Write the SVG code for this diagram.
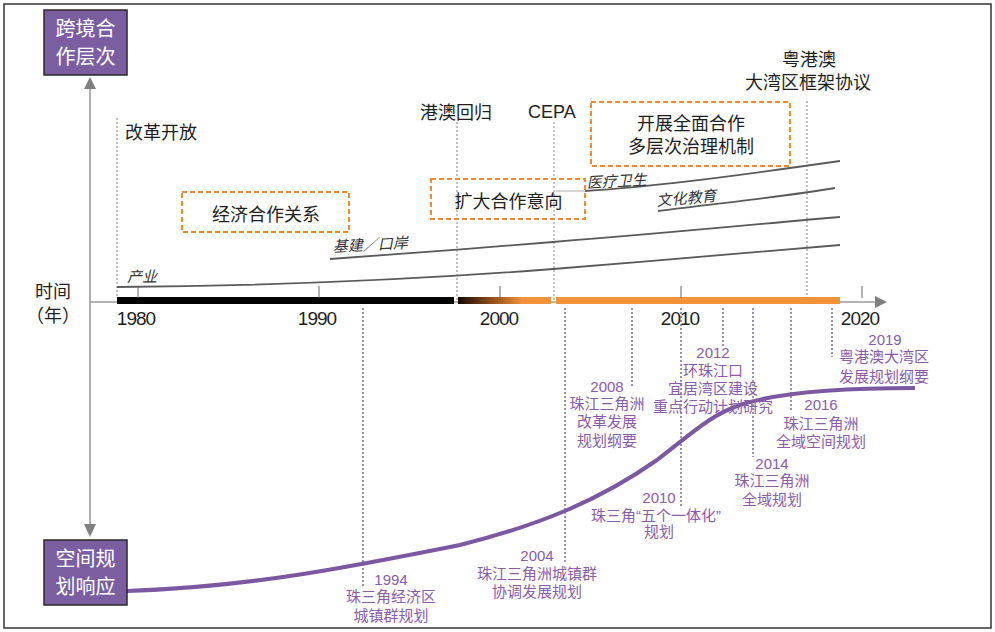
<svg xmlns="http://www.w3.org/2000/svg" width="995" height="632" viewBox="0 0 995 632">
<defs>
<style>
.t{font-family:"Liberation Sans","Noto Sans CJK SC",sans-serif;fill:#1e1e1e;font-size:18px}
.bx{font-family:"Noto Sans CJK SC",sans-serif;fill:#fff;font-size:20px;text-anchor:middle}
.yr{font-family:"Liberation Sans","Noto Sans CJK SC",sans-serif;fill:#1e1e1e;font-size:19px;letter-spacing:-1px;text-anchor:middle}
.p{font-family:"Liberation Sans","Noto Sans CJK SC",sans-serif;fill:#8a5ca8;font-size:15px;text-anchor:middle}
.it{font-family:"Liberation Sans","Noto Sans CJK SC",sans-serif;fill:#333;font-size:15px;font-style:italic}
.c{fill:none;stroke:#5a5a5a;stroke-width:1.8}
.gd{stroke:#9a9a9a;stroke-width:1.2;stroke-dasharray:2 2;fill:none}
.pd{stroke:#5b4a7e;stroke-width:1.2;stroke-dasharray:2 2;fill:none}
.ob{fill:none;stroke:#f08a32;stroke-width:2;stroke-dasharray:5 3}
.pb{fill:#7b5ea0;stroke:#2a2a2a;stroke-width:1.5}
.ax{stroke:#9a9a9a;stroke-width:1.6;fill:none}
.tk{stroke:#666;stroke-width:1}
</style>
<linearGradient id="grad" x1="0" y1="0" x2="1" y2="0">
<stop offset="0" stop-color="#140a02"/>
<stop offset="0.35" stop-color="#8a4d1a"/>
<stop offset="0.7" stop-color="#f4923a"/>
<stop offset="1" stop-color="#f4923a"/>
</linearGradient>
</defs>
<rect x="0" y="0" width="995" height="632" fill="#fff"/>
<rect x="4" y="4" width="987" height="624" fill="none" stroke="#333" stroke-width="1.5"/>

<g id="connectors">
<line class="ax" x1="90" y1="88" x2="90" y2="525"/>
<polygon points="84,89 90,77 96,89" fill="#7f7f7f"/>
<polygon points="84,524 90,537 96,524" fill="#7f7f7f"/>
<line class="ax" x1="90" y1="302" x2="876" y2="302"/>
<polygon points="875,296 887,302 875,308" fill="#7f7f7f"/>
<rect x="117" y="297" width="337" height="7" fill="#000"/>
<rect x="458" y="297" width="93" height="7" fill="url(#grad)"/>
<rect x="556" y="297" width="284" height="7" fill="#f4923a"/>
<line class="tk" x1="138" y1="286" x2="138" y2="298"/>
<line class="tk" x1="319" y1="286" x2="319" y2="298"/>
<line class="tk" x1="500" y1="286" x2="500" y2="298"/>
<line class="tk" x1="681" y1="286" x2="681" y2="298"/>
<line class="tk" x1="862" y1="286" x2="862" y2="298"/>
<line class="gd" x1="117" y1="118" x2="117" y2="298"/>
<line class="gd" x1="457" y1="122" x2="457" y2="300"/>
<line class="gd" x1="554" y1="122" x2="554" y2="300"/>
<line class="gd" x1="807" y1="101" x2="807" y2="298"/>
<path class="c" d="M117,287 C250,286 400,281 553,269 C650,261 760,252 840,245"/>
<path class="c" d="M330,259 C400,254 480,248 553,242 C680,232 780,222 840,217"/>
<line x1="556" y1="191" x2="585" y2="191" stroke="#c8c8c8" stroke-width="1.5"/>
<path class="c" d="M585,191 C650,187 720,178 840,161"/>
<path class="c" d="M658,211 C720,203 790,196 835,188"/>
<line class="pd" x1="363" y1="308" x2="363" y2="587"/>
<line class="pd" x1="565" y1="308" x2="565" y2="564"/>
<line class="pd" x1="632" y1="308" x2="632" y2="388"/>
<line class="pd" x1="681" y1="308" x2="681" y2="507"/>
<line class="pd" x1="723" y1="308" x2="723" y2="347"/>
<line class="pd" x1="753" y1="308" x2="753" y2="457"/>
<line class="pd" x1="791" y1="308" x2="791" y2="412"/>
<line class="pd" x1="832" y1="308" x2="832" y2="357"/>
<path d="M127,591 C250,587 350,567 460,545 C540,525 600,500 657,460 C690,435 710,415 740,405 C770,395 820,388 915,388" fill="none" stroke="#7b58a0" stroke-width="4"/>
</g>

<g id="box-top">
<rect class="pb" x="44" y="10" width="83" height="65"/>
<text class="bx" x="85.5" y="36">跨境合</text>
<text class="bx" x="85.5" y="64">作层次</text>
</g>
<g id="box-bottom">
<rect class="pb" x="44" y="540" width="83" height="65"/>
<text class="bx" x="85.5" y="566">空间规</text>
<text class="bx" x="85.5" y="594">划响应</text>
</g>

<g id="axis-labels">
<text class="t" x="53" y="298" text-anchor="middle" font-size="17">时间</text>
<text class="t" x="53" y="322" text-anchor="middle" font-size="17">（年）</text>
<text class="yr" x="136" y="325">1980</text>
<text class="yr" x="317" y="325">1990</text>
<text class="yr" x="499" y="325">2000</text>
<text class="yr" x="680" y="325">2010</text>
<text class="yr" x="860" y="325">2020</text>
</g>

<g id="events">
<text class="t" x="125" y="139">改革开放</text>
<text class="t" x="420" y="119">港澳回归</text>
<text class="t" x="528" y="118">CEPA</text>
<text class="t" x="809" y="66" text-anchor="middle">粤港澳</text>
<text class="t" x="808" y="89" text-anchor="middle">大湾区框架协议</text>
</g>

<g id="box-econ">
<rect class="ob" x="182" y="192" width="167" height="40"/>
<text class="t" x="266" y="221" text-anchor="middle">经济合作关系</text>
</g>
<g id="box-expand">
<rect class="ob" x="431" y="179" width="154" height="40"/>
<text class="t" x="508.5" y="208" text-anchor="middle">扩大合作意向</text>
</g>
<g id="box-full">
<rect class="ob" x="591" y="102" width="199" height="64"/>
<text class="t" x="691" y="130" text-anchor="middle">开展全面合作</text>
<text class="t" x="691" y="153" text-anchor="middle">多层次治理机制</text>
</g>

<g id="curve-labels">
<text class="it" x="127" y="282">产业</text>
<text class="it" x="333" y="252" transform="rotate(-3 333 252)">基建／口岸</text>
<text class="it" x="587" y="188" transform="rotate(-3 587 188)">医疗卫生</text>
<text class="it" x="657" y="206" transform="rotate(-5 657 206)">文化教育</text>
</g>

<g id="plan-1994">
<text class="p" x="391" y="585">1994</text>
<text class="p" x="391" y="602">珠三角经济区</text>
<text class="p" x="391" y="621">城镇群规划</text>
</g>
<g id="plan-2004">
<text class="p" x="537" y="561">2004</text>
<text class="p" x="537" y="579">珠江三角洲城镇群</text>
<text class="p" x="537" y="597">协调发展规划</text>
</g>
<g id="plan-2008">
<text class="p" x="607" y="392">2008</text>
<text class="p" x="607" y="409">珠江三角洲</text>
<text class="p" x="607" y="427">改革发展</text>
<text class="p" x="607" y="446">规划纲要</text>
</g>
<g id="plan-2010">
<text class="p" x="659" y="503">2010</text>
<text class="p" x="656" y="521">珠三角“五个一体化”</text>
<text class="p" x="659" y="537">规划</text>
</g>
<g id="plan-2012">
<text class="p" x="713" y="358">2012</text>
<text class="p" x="713" y="376">环珠江口</text>
<text class="p" x="713" y="394">宜居湾区建设</text>
<text class="p" x="713" y="412">重点行动计划研究</text>
</g>
<g id="plan-2014">
<text class="p" x="772" y="469">2014</text>
<text class="p" x="772" y="486">珠江三角洲</text>
<text class="p" x="772" y="505">全域规划</text>
</g>
<g id="plan-2016">
<text class="p" x="821" y="410">2016</text>
<text class="p" x="821" y="429">珠江三角洲</text>
<text class="p" x="821" y="447">全域空间规划</text>
</g>
<g id="plan-2019">
<text class="p" x="885" y="345">2019</text>
<text class="p" x="884" y="362">粤港澳大湾区</text>
<text class="p" x="884" y="382">发展规划纲要</text>
</g>
</svg>
